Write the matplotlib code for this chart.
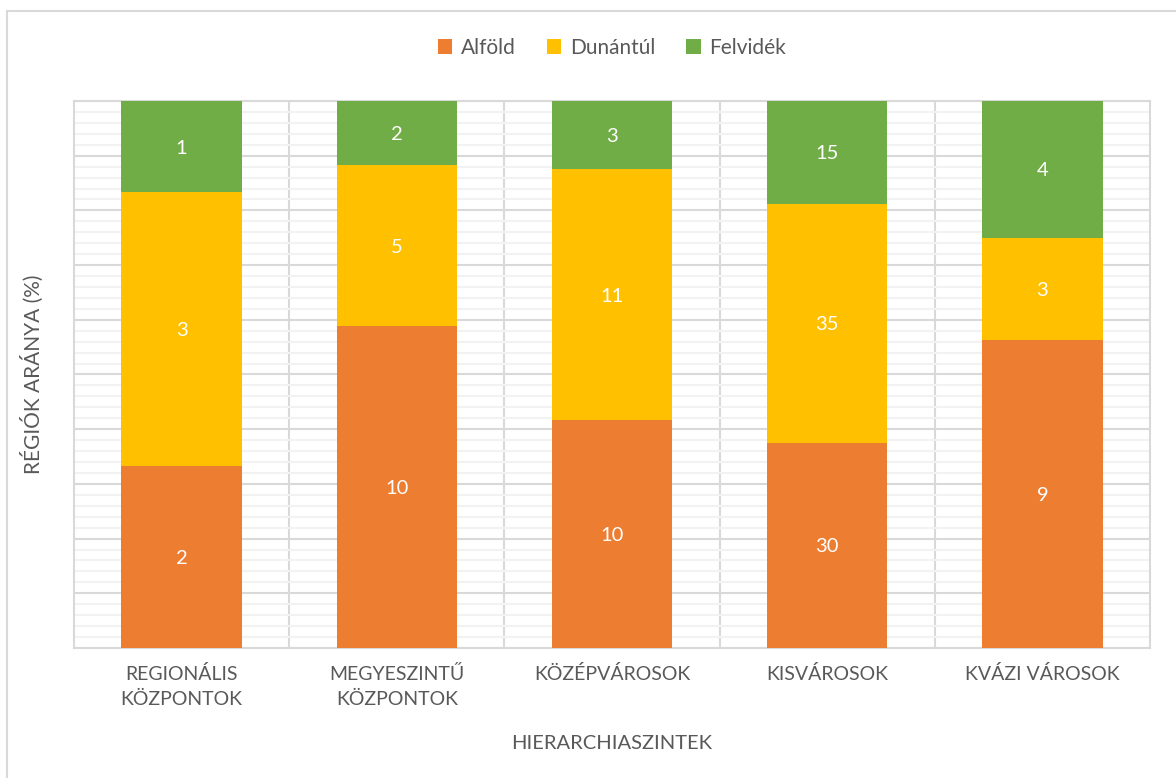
import numpy as np
import matplotlib.pyplot as plt
from matplotlib.patches import Rectangle
from matplotlib.ticker import MultipleLocator

plt.rcParams['font.family'] = ['Lato', 'DejaVu Sans']

# hierarchiaszintek és régiók szerinti darabszámok
categories = ['REGIONÁLIS\nKÖZPONTOK', 'MEGYESZINTŰ\nKÖZPONTOK', 'KÖZÉPVÁROSOK',
              'KISVÁROSOK', 'KVÁZI VÁROSOK']
alfold = [2, 10, 10, 30, 9]
dunantul = [3, 5, 11, 35, 3]
felvidek = [1, 2, 3, 15, 4]

series = [('Alföld', alfold, '#ED7D31'),
          ('Dunántúl', dunantul, '#FFC000'),
          ('Felvidék', felvidek, '#70AD47')]

text_gray = '#595959'

fig = plt.figure(figsize=(11.76, 7.78), dpi=100)
ax = fig.add_axes([0.0629, 0.1671, 0.9150, 0.7031])

# keret a diagram körül (csak bal és felső él látszik)
fig.patches.append(Rectangle((0.006, -0.1), 1.2, 0.1 + 0.986, transform=fig.transFigure,
                             fill=False, edgecolor='#D9D9D9', linewidth=1.5))

x = np.arange(len(categories))
totals = np.array(alfold) + np.array(dunantul) + np.array(felvidek)
bottom = np.zeros(len(categories))
for name, vals, color in series:
    vals = np.array(vals, dtype=float)
    share = vals / totals * 100
    ax.bar(x, share, width=0.56, bottom=bottom, color=color, label=name, zorder=3)
    for xi, b, s, v in zip(x, bottom, share, vals):
        ax.text(xi, b + s / 2, f'{int(v)}', ha='center', va='center_baseline',
                color='white', fontsize=14.5, zorder=4)
    bottom += share

ax.set_xlim(-0.5, len(categories) - 0.5)
ax.set_ylim(0, 100)
ax.yaxis.set_major_locator(MultipleLocator(10))
ax.yaxis.set_minor_locator(MultipleLocator(2))
ax.grid(which='major', axis='y', color='#D9D9D9', linewidth=1.5, zorder=1)
ax.grid(which='minor', axis='y', color='#F2F2F2', linewidth=1.5, zorder=0)
for b in np.arange(0.5, len(categories) - 0.5):
    ax.axvline(b, color='#D9D9D9', linewidth=1.5, zorder=1)

for s in ax.spines.values():
    s.set_color('#D9D9D9')
    s.set_linewidth(1.5)

ax.set_xticks(x)
ax.set_xticklabels(categories, fontsize=14, color=text_gray, linespacing=1.55)
ax.tick_params(axis='x', length=0, pad=12)
ax.tick_params(axis='y', which='both', length=0, labelleft=False)

ax.set_xlabel('HIERARCHIASZINTEK', fontsize=14.5, color=text_gray, labelpad=20)
ax.set_ylabel('RÉGIÓK ARÁNYA (%)', fontsize=15, color=text_gray, labelpad=22)

ax.legend(loc='upper center', bbox_to_anchor=(0.5, 1.15), ncol=3, frameon=False,
          fontsize=15, handlelength=0.7, handleheight=0.7, handletextpad=0.4,
          columnspacing=1.5, labelcolor=text_gray)

fig.savefig('out.png', dpi=100, facecolor='white')
